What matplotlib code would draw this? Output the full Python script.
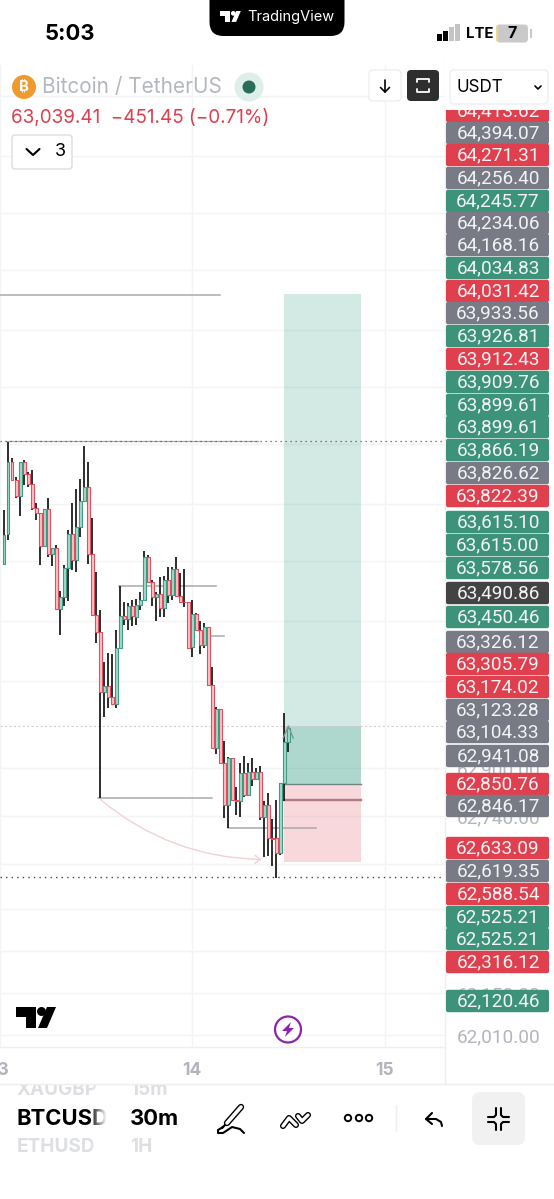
import numpy as np
import matplotlib
matplotlib.use('Agg')
import matplotlib.pyplot as plt
from matplotlib.patches import FancyBboxPatch, Circle, Polygon, Rectangle, FancyArrowPatch

plt.rcParams['font.family'] = ['Inter', 'DejaVu Sans']

# candles, 30m bars
opens = [63580, 63679, 63919, 63860, 63808, 63921, 63879, 63846, 63766, 63749, 63641, 63763,
         63612, 63634, 63430, 63471, 63568, 63681, 63593, 63704, 63790, 63838, 63612, 63409,
         63353, 63154, 63174, 63138, 63113, 63299, 63407, 63396, 63440, 63404, 63443, 63460,
         63604, 63519, 63469, 63479, 63432, 63527, 63477, 63562, 63474, 63454, 63452, 63302,
         63413, 63360, 63310, 63369, 63177, 62968, 63096, 62916, 62777, 62934, 62793, 62790,
         62882, 62810, 62888, 62863, 62888, 62738, 62777, 62666, 62668, 62618, 62849, 62986]
closes = [63677, 63919, 63860, 63808, 63919, 63879, 63846, 63766, 63749, 63641, 63763, 63612,
          63634, 63430, 63471, 63568, 63681, 63593, 63704, 63790, 63838, 63612, 63409, 63353,
          63154, 63174, 63138, 63113, 63299, 63407, 63396, 63440, 63407, 63443, 63460, 63604,
          63519, 63469, 63479, 63432, 63527, 63477, 63562, 63474, 63452, 63452, 63299, 63413,
          63360, 63310, 63369, 63177, 62968, 63096, 62916, 62777, 62934, 62793, 62790, 62882,
          62810, 62888, 62863, 62888, 62738, 62777, 62666, 62663, 62618, 62849, 62986, 63034]
highs = [63760, 63988, 63932, 63871, 63919, 63927, 63888, 63893, 63782, 63749, 63765, 63799,
         63634, 63643, 63490, 63577, 63693, 63784, 63829, 63862, 63974, 63919, 63732, 63554,
         63427, 63254, 63284, 63280, 63360, 63507, 63454, 63451, 63460, 63462, 63488, 63623,
         63610, 63527, 63488, 63538, 63540, 63571, 63571, 63602, 63549, 63562, 63452, 63460,
         63418, 63390, 63384, 63369, 63236, 63102, 63096, 62991, 62938, 62934, 62838, 62916,
         62941, 62916, 62932, 62899, 62908, 62791, 62818, 62729, 62793, 62849, 63082, 63034]
lows = [63580, 63660, 63860, 63799, 63741, 63843, 63838, 63760, 63727, 63577, 63641, 63604,
        63573, 63430, 63343, 63441, 63458, 63560, 63554, 63671, 63790, 63579, 63409, 63316,
        62800, 63071, 63101, 63113, 63099, 63299, 63377, 63360, 63373, 63377, 63427, 63460,
        63518, 63441, 63391, 63404, 63402, 63449, 63460, 63471, 63452, 63438, 63296, 63269,
        63360, 63280, 63299, 63177, 62968, 62947, 62916, 62734, 62699, 62793, 62743, 62738,
        62802, 62810, 62841, 62863, 62727, 62604, 62607, 62573, 62535, 62610, 62791, 62955]

# price scale
grid_prices = [65140, 64940, 64750, 64560, 64360, 64170, 63980, 63780, 63590, 63390, 63190,
               62900, 62740, 62580, 62430, 62290, 62150, 62010]
shown_prices = [62900, 62740, 62150, 62010]
day_ticks = [-1, 47, 95]
day_labels = ['13', '14', '15']

# price tags on the right
tag_text = ['64,413.62', '64,394.07', '64,271.31', '64,256.40', '64,245.77', '64,234.06', '64,168.16',
            '64,034.83', '64,031.42', '63,933.56', '63,926.81', '63,912.43', '63,909.76', '63,899.61',
            '63,899.61', '63,866.19', '63,826.62', '63,822.39', '63,615.10', '63,615.00', '63,578.56',
            '63,490.86', '63,450.46', '63,326.12', '63,305.79', '63,174.02', '63,123.28', '63,104.33',
            '62,941.08', '62,850.76', '62,846.17', '62,633.09', '62,619.35', '62,588.54', '62,525.21',
            '62,525.21', '62,316.12', '62,120.46']
tag_kind = ['r', 'g', 'r', 'g', 't', 'g', 'g', 't', 'r', 'g', 't', 'r', 't', 't', 't', 't', 'g', 'r',
            't', 't', 't', 'k', 't', 'g', 'r', 'r', 'g', 'g', 'g', 'r', 'g', 'r', 'g', 'r', 't', 't', 'r', 't']
tag_y = [111, 133, 155, 178, 201, 223, 245, 268, 291, 313, 336, 359, 382, 405, 427, 450, 473, 496,
         522, 545, 568, 593, 617, 642, 664, 687, 710, 732, 756, 784, 806, 848, 871, 894, 917, 939, 962, 1001]
tag_colors = {'r': '#e0404e', 'g': '#787b86', 't': '#3d9379', 'k': '#434343'}

# drawings, prices
target = 64480
entry = 62846
stop = 62588
last_price = 63039
tool_start, tool_end = 69.8, 89.2
tool_mid = 62795
levels = [(-1, 54, 64477), (28.8, 53, 63507), (50, 55, 63340), (23.5, 52, 62800), (56, 78, 62700)]
swing_high = 63990
swing_low = 62537

GREEN, GREEN_FILL = '#3f9b82', '#a6d9c9'
RED, RED_FILL = '#df4f5d', '#f8c5c9'
GRID = '#f3f4f6'
AXIS_TXT = '#b2b5be'

W, H = 554, 1199
fig = plt.figure(figsize=(W / 100, H / 100), dpi=100, facecolor='white')
top, bottom, right = 65, 1047, 445
ax = fig.add_axes([0, 1 - bottom / H, right / W, (bottom - top) / H])
ax.set_xlim(-0.572, 110.1)
ax.set_ylim(65460 - bottom * 10 / 3, 65460 - top * 10 / 3)
for s in ax.spines.values():
    s.set_visible(False)
ax.set_axisbelow(True)
ax.grid(True, color=GRID, lw=1)
ax.set_xticks(day_ticks, day_labels, fontsize=12.5, fontweight='bold', color=AXIS_TXT)
ax.yaxis.tick_right()
ax.set_yticks(grid_prices, [f'{p:,.2f}' if p in shown_prices else '' for p in grid_prices],
              fontsize=13.7, color=AXIS_TXT, family=['Roboto', 'DejaVu Sans'])
ax.tick_params(axis='x', length=0, pad=11)
ax.tick_params(axis='y', length=0, pad=8.5)

# long position tool
ax.fill_between([tool_start, tool_end], entry, target, color='#22917a', alpha=0.2, lw=0, zorder=1)
ax.fill_between([tool_start, tool_end], entry, last_price, color='#22917a', alpha=0.2, lw=0, zorder=1)
ax.fill_between([tool_start, tool_end], stop, entry, color='#e0404e', alpha=0.2, lw=0, zorder=1)
ax.plot([tool_start, tool_end], [entry, entry], color='#6f8580', lw=1, zorder=2)
ax.plot([tool_start, tool_end], [tool_mid, tool_mid], color='#ab7d83', lw=1.7, zorder=2)

for x0, x1, p in levels:
    ax.plot([x0, x1], [p, p], color='#a9a9a9', lw=1.1, zorder=2)
ax.plot([0.5, 63.5], [swing_high, swing_high], color='#a9a9a9', lw=0.9, zorder=2)
ax.axhline(swing_high, color='#555555', lw=0.9, ls=(0, (1, 3)), zorder=2)
ax.axhline(swing_low, color='#444444', lw=1, ls=(0, (1, 3)), zorder=2)
ax.axhline(last_price, color='#d9cdd0', lw=0.8, ls=(0, (2, 2)), zorder=2)

ax.add_patch(FancyArrowPatch((23.6, 62800), (65.0, 62595), connectionstyle='arc3,rad=0.18',
                             arrowstyle='->,head_length=4,head_width=3', color='#f5d0d2', lw=1, zorder=2))

# candles
x = np.arange(len(opens))
o, c = np.array(opens), np.array(closes)
up = c >= o
ax.vlines(x, lows, highs, color='#1c1c1c', lw=1.3, zorder=3)
ax.bar(x[up], (c - o)[up], bottom=o[up], width=0.74, color=GREEN_FILL, edgecolor=GREEN, lw=0.8, zorder=4)
ax.bar(x[~up], (c - o)[~up], bottom=o[~up], width=0.74, color=RED_FILL, edgecolor=RED, lw=0.8, zorder=4)
ax.plot([69.7, 71, 72.2], [63000, 63040, 63000], color='#7a9a92', lw=1, zorder=5)

# everything else is app chrome, drawn in screen pixels
ui = fig.add_axes([0, 0, 1, 1], facecolor='none')
ui.set_xlim(0, W)
ui.set_ylim(H, 0)
ui.axis('off')


def box(x0, y0, x1, y1, r, fc, ec='none', lw=1, z=5):
    ui.add_patch(FancyBboxPatch((x0 + r, y0 + r), x1 - x0 - 2 * r, y1 - y0 - 2 * r,
                                boxstyle=f'round,pad={r},rounding_size={r}', fc=fc, ec=ec, lw=lw, zorder=z))


def txt(x0, y0, s, px, color='black', ha='left', weight='normal', z=8, family=None):
    return ui.text(x0, y0, s, fontsize=px * 0.72, color=color, ha=ha, va='center', fontweight=weight,
                   zorder=z, family=family or ['Inter', 'DejaVu Sans'])


def logo(x0, y0, s, color):
    ui.add_patch(Polygon([(x0, y0), (x0 + 20 * s, y0), (x0 + 20 * s, y0 + 21 * s), (x0 + 10 * s, y0 + 21 * s),
                          (x0 + 10 * s, y0 + 10 * s), (x0, y0 + 10 * s)], fc=color, ec='none', zorder=9))
    ui.add_patch(Circle((x0 + 25.5 * s, y0 + 4.5 * s), 4.5 * s, fc=color, ec='none', zorder=9))
    ui.add_patch(Polygon([(x0 + 31 * s, y0), (x0 + 40 * s, y0), (x0 + 31 * s, y0 + 21 * s), (x0 + 22 * s, y0 + 21 * s)],
                         fc=color, ec='none', zorder=9))


def stroke(xs, ys, lw=1.5, color='black', z=9):
    ui.plot(xs, ys, color=color, lw=lw, solid_capstyle='round', solid_joinstyle='round', zorder=z)


def outline(xs, ys, lw=2.4):
    stroke(xs, ys, lw + 2, 'black', 9)
    stroke(xs, ys, lw, 'white', 9.1)


# price tags
for s, k, y in zip(tag_text, tag_kind, tag_y):
    box(446, y - 11.2, 549, y + 11.2, 2, tag_colors[k], z=5)
    txt(498, y, s, 19, '#f2f3f5', ha='center', z=6, family=['Roboto', 'DejaVu Sans'])
ui.add_patch(Rectangle((445, 60), 109, 49.5, fc='white', ec='none', zorder=7))
ui.plot([445, 445], [60, 1084], color='#eeeff1', lw=1, zorder=4)
ui.plot([0, 445], [1047, 1047], color='#eeeff1', lw=1, zorder=4)
ui.plot([0, W], [1084, 1084], color='#eeeff1', lw=1, zorder=9)

# status bar
ui.add_patch(FancyBboxPatch((209.5, -30), 135, 66, boxstyle='round,pad=0,rounding_size=14', fc='black', ec='none', zorder=8))
logo(220, 11, 0.52, 'white')
txt(247, 17, 'TradingView', 14.6, 'white', z=9)
txt(45, 34, '5:03', 22, weight='bold')
for i, (bx, bh, col) in enumerate(zip([437, 443, 449, 455], [7, 10, 14, 17],
                                      ['black', 'black', '#c4c4c4', '#c4c4c4'])):
    ui.add_patch(Rectangle((bx, 41 - bh), 4.5, bh, fc=col, ec='none', zorder=9))
txt(466, 34, 'LTE', 15, weight='bold')
box(496, 24.5, 528, 42.5, 4, '#c9c9c9', z=8)
ui.add_patch(Rectangle((496, 26), 2, 15, fc='#f0d98a', ec='none', zorder=9))
ui.plot([531, 531], [30, 37], color='#c9c9c9', lw=1.5, zorder=8)
txt(512, 34, '7', 16, ha='center', weight='bold', z=9)

# header
ui.add_patch(Circle((24, 87), 12, fc='#ee9a2f', ec='none', zorder=8))
txt(24, 87, '₿', 15, 'white', ha='center', weight='bold', z=9, family=['Inter', 'Noto Sans', 'Roboto', 'Open Sans', 'Lato', 'DejaVu Sans'])
txt(42, 87, 'Bitcoin / TetherUS', 20.8, '#b4b7bf')
ui.add_patch(Circle((249, 87), 14.5, fc='#deefea', ec='none', zorder=8))
ui.add_patch(Circle((249, 87), 6.5, fc='#2a6b5a', ec='none', zorder=9))
box(369, 70, 401, 101, 4, 'white', '#eeeeee', z=8)
stroke([385, 385], [80, 92], 1.2)
stroke([380.5, 385, 389.5], [87.5, 92, 87.5], 1.2)
box(407, 70, 439, 101, 4, '#2e2e2e', z=8)
stroke([417, 417, 429, 429], [82, 79, 79, 82], 1.3, 'white')
stroke([417, 417, 429, 429], [89, 92, 92, 89], 1.3, 'white')
box(450, 70, 548, 104, 4, 'white', '#eeeeee', z=8)
txt(456, 87, 'USDT', 17, z=9)
stroke([535, 538, 541], [86, 89, 86], 1.2)
txt(11, 118, '63,039.41  −451.45 (−0.71%)', 18.9, '#e0404e')
box(12, 135, 72, 169, 3, 'white', '#dddddd', z=8)
stroke([26.5, 33, 39.5], [149, 155, 149], 1.5)
txt(60, 152, '3', 18, ha='center')

# chart overlays
logo(16, 1007, 1.0, 'black')
ui.add_patch(Circle((288, 1029.5), 13, fc='white', ec='#8e24aa', lw=1.6, zorder=8))
ui.add_patch(Polygon([(291, 1022), (282, 1031), (287, 1031), (285, 1037), (294, 1028), (289, 1028)],
                     fc='#8e24aa', ec='none', zorder=9))

# bottom bar
faded = '#dedfe2'
txt(17, 1090, 'XAUGBP', 19, faded, weight='bold')
txt(130, 1090, '15m', 19, faded, weight='bold')
txt(17, 1147, 'ETHUSD', 19, faded, weight='bold')
txt(130, 1147, '1H', 19, faded, weight='bold')
txt(17, 1119, 'BTCUSD', 22, weight='bold')
txt(130, 1119, '30m', 22, weight='bold')
ui.add_patch(Rectangle((0, 1076), 210, 9, fc='white', ec='none', zorder=8.5))
fade = np.ones((1, 20, 4))
fade[0, :, 3] = np.linspace(0, 1, 20)
ui.imshow(fade, extent=(89, 107, 1160, 1080), aspect='auto', zorder=8.5)
ui.add_patch(Rectangle((107, 1080), 15, 80, fc='white', ec='none', zorder=8.5))
ui.set_xlim(0, W)
ui.set_ylim(H, 0)

# toolbar icons
outline([227, 241], [1123, 1107], 2.6)
stroke([227, 223, 222], [1123, 1127, 1128], 1.6)
stroke([223, 218, 218, 223, 232, 240, 244], [1127, 1130, 1133, 1133, 1127, 1129, 1133], 1.5)
outline([283, 289, 296], [1126, 1118, 1125], 2.4)
outline([298, 302, 308], [1116, 1121, 1115], 2.4)
for cx in [348, 359, 369]:
    ui.add_patch(Circle((cx, 1118), 3.2, fc='white', ec='black', lw=1.4, zorder=9))
ui.plot([396, 396], [1106, 1131], color='#eeeeee', lw=1, zorder=8)
stroke([432, 426, 432], [1113, 1119, 1124], 1.5)
stroke([426, 436, 441, 442], [1119, 1119, 1122, 1126], 1.5)
box(472, 1092, 525, 1145, 8, '#f1f1f1', z=8)
stroke([488, 494, 496, 496], [1117, 1117, 1115, 1108], 1.5)
stroke([509, 503, 501, 501], [1117, 1117, 1115, 1108], 1.5)
stroke([488, 494, 496, 496], [1122, 1122, 1124, 1130], 1.5)
stroke([509, 503, 501, 501], [1122, 1122, 1124, 1130], 1.5)

fig.savefig('out.png', dpi=100)
